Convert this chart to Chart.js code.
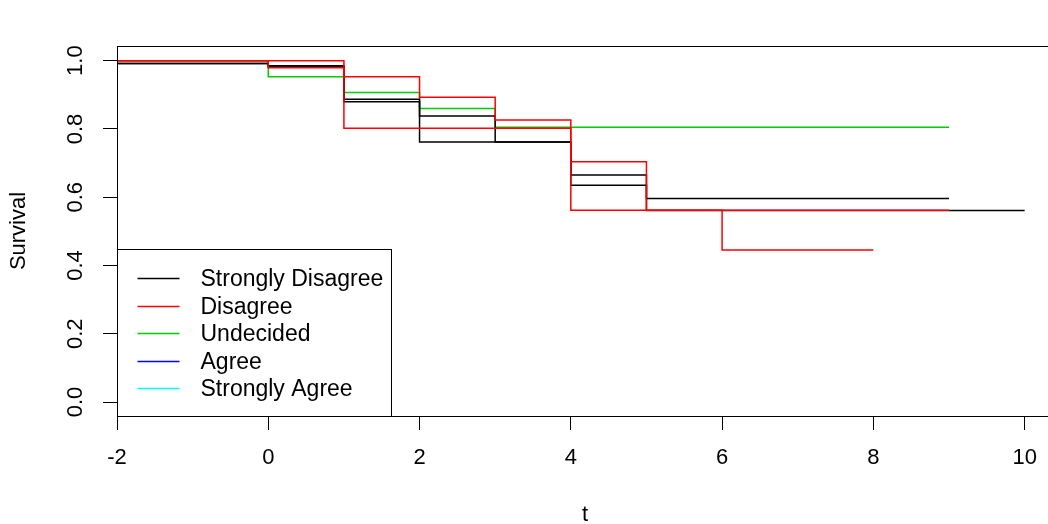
<!DOCTYPE html>
<html>
<head>
<meta charset="utf-8">
<script src="https://cdn.jsdelivr.net/npm/chart.js@4.4.0/dist/chart.umd.min.js"></script>
<style>
  html, body { margin: 0; padding: 0; background: #fff; overflow: hidden; }
  canvas { display: block; }
</style>
</head>
<body>
<canvas id="c" width="1056" height="524"></canvas>
<script>
// Survival step curves: two bounding curves per response group (t = start of each step)
const sdTimesA = [-2, 0, 1, 2, 3, 4, 5, 9];
const sdSurvA  = [0.992, 0.982, 0.887, 0.838, 0.762, 0.665, 0.596, 0.596];
const sdTimesB = [-2, 0, 1, 2, 4, 5, 10];
const sdSurvB  = [0.992, 0.985, 0.880, 0.762, 0.635, 0.561, 0.561];

const dTimesA = [-2, 1, 2, 3, 4, 5, 9];
const dSurvA  = [1.0, 0.953, 0.893, 0.826, 0.704, 0.562, 0.562];
const dTimesB = [-2, 0, 1, 4, 6, 8];
const dSurvB  = [1.0, 0.979, 0.802, 0.562, 0.445, 0.445];

const uTimes = [-2, 0, 1, 2, 3, 9];
const uSurv  = [1.0, 0.953, 0.907, 0.860, 0.805, 0.805];

const legendLabels = ['Strongly Disagree', 'Disagree', 'Undecided', 'Agree', 'Strongly Agree'];
const legendColors = ['#000000', '#FF0000', '#00CD00', '#0000FF', '#00FFFF'];

const xTickValues = [-2, 0, 2, 4, 6, 8, 10];
const yTickValues = [0, 0.2, 0.4, 0.6, 0.8, 1.0];

const FONT = '"Liberation Sans", Arial, sans-serif';

function steps(times, surv) {
  return times.map((t, i) => ({ x: t, y: surv[i] }));
}

function curve(label, times, surv, color) {
  return {
    label: label,
    data: steps(times, surv),
    borderColor: color,
    borderWidth: 1.5,
    pointRadius: 0,
    pointHoverRadius: 0,
    fill: false,
    stepped: true,
    tension: 0
  };
}

// Plot frame and bottom-left key
const framePlugin = {
  id: 'frameAndKey',
  afterDatasetsDraw(chart) {
    const { ctx, chartArea: a } = chart;
    ctx.save();
    ctx.strokeStyle = '#000';
    ctx.lineWidth = 1;
    const L = Math.round(a.left) + 0.5, T = Math.round(a.top) + 0.5;
    const R = Math.round(a.right) + 0.5, B = Math.round(a.bottom) + 0.5;
    ctx.strokeRect(L, T, R - L, B - T);

    // key box
    const boxW = 274, boxH = 167;
    ctx.fillStyle = '#fff';
    ctx.fillRect(L, B - boxH, boxW, boxH);
    ctx.strokeRect(L, B - boxH, boxW, boxH);

    ctx.font = '23px ' + FONT;
    ctx.textBaseline = 'middle';
    ctx.textAlign = 'left';
    legendLabels.forEach((lab, i) => {
      const y = Math.round(B - boxH + 28.5 + i * 27.5) + 0.5;
      ctx.strokeStyle = legendColors[i];
      ctx.lineWidth = 1.5;
      ctx.beginPath();
      ctx.moveTo(L + 20, y);
      ctx.lineTo(L + 62, y);
      ctx.stroke();
      ctx.fillStyle = '#000';
      ctx.fillText(lab, L + 83, y + 1);
    });
    ctx.restore();
  }
};

// first dataset is painted on top: red over black over green
new Chart(document.getElementById('c'), {
  type: 'line',
  data: {
    datasets: [
      curve('Disagree', dTimesA, dSurvA, legendColors[1]),
      curve('Disagree', dTimesB, dSurvB, legendColors[1]),
      curve('Strongly Disagree', sdTimesA, sdSurvA, legendColors[0]),
      curve('Strongly Disagree', sdTimesB, sdSurvB, legendColors[0]),
      curve('Undecided', uTimes, uSurv, legendColors[2])
    ]
  },
  options: {
    responsive: false,
    animation: false,
    devicePixelRatio: 1,
    layout: { padding: { top: 46, right: 3, bottom: 0, left: 0 } },
    plugins: {
      legend: { display: false },
      tooltip: { enabled: false },
      title: { display: false }
    },
    scales: {
      x: {
        type: 'linear',
        min: -2,
        max: 10.375,
        afterBuildTicks: (s) => { s.ticks = xTickValues.map(v => ({ value: v })); },
        afterFit: (s) => { s.height = 108; },
        border: { display: false },
        grid: { display: true, drawOnChartArea: false, drawTicks: true, tickLength: 14, color: '#000', lineWidth: 1 },
        ticks: {
          color: '#000',
          font: { family: FONT, size: 22 },
          padding: 15,
          maxRotation: 0,
          minRotation: 0,
          autoSkip: false,
          callback: (v) => String(v)
        },
        title: {
          display: true,
          text: 't',
          color: '#000',
          font: { family: FONT, size: 22, lineHeight: 1 },
          padding: { top: 0, bottom: -2 }
        }
      },
      y: {
        type: 'linear',
        min: -0.041,
        max: 1.043,
        afterBuildTicks: (s) => { s.ticks = yTickValues.map(v => ({ value: v })); },
        afterFit: (s) => { s.width = 117; },
        border: { display: false },
        grid: { display: true, drawOnChartArea: false, drawTicks: true, tickLength: 14, color: '#000', lineWidth: 1 },
        ticks: {
          color: '#000',
          font: { family: FONT, size: 22 },
          padding: 12,
          minRotation: 90,
          maxRotation: 90,
          crossAlign: 'center',
          autoSkip: false,
          callback: (v) => Number(v).toFixed(1)
        },
        title: {
          display: true,
          text: 'Survival',
          color: '#000',
          font: { family: FONT, size: 22, lineHeight: 1 },
          padding: { top: 8, bottom: 0 }
        }
      }
    }
  },
  plugins: [framePlugin]
});
</script>
</body>
</html>
